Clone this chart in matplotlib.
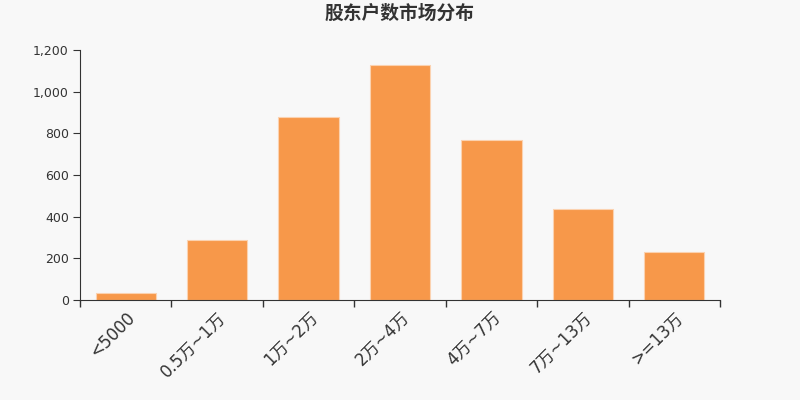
import matplotlib
matplotlib.use("Agg")
import matplotlib.pyplot as plt
import numpy as np
from matplotlib.ticker import FuncFormatter, FixedLocator, NullFormatter

plt.rcParams['font.family'] = ['DejaVu Sans', 'Noto Sans CJK SC']

categories = ['<5000', '0.5万~1万', '1万~2万', '2万~4万', '4万~7万', '7万~13万', '>=13万']
holders = [32, 290, 877, 1128, 766, 438, 229]

bg = '#f8f8f8'
fig = plt.figure(figsize=(8, 4), dpi=100, facecolor=bg)
ax = fig.add_axes([0.1, 0.25, 0.8, 0.625], facecolor=bg)

x = np.arange(len(categories))
ax.bar(x, holders, width=0.66, color='#f7984a', edgecolor='#fbd2b0', linewidth=0.8)

ax.set_xlim(-0.5, len(categories) - 0.5)
ax.set_ylim(0, 1200)
ax.set_yticks(range(0, 1201, 200))
ax.yaxis.set_major_formatter(FuncFormatter(lambda v, p: '{:,.0f}'.format(v)))

# labels at bar centres, tick marks at category boundaries
ax.set_xticks(x)
ax.set_xticklabels(categories, rotation=45, ha='right', rotation_mode='anchor',
                   fontsize=12, color='#333333')
ax.tick_params(axis='x', which='major', length=0, pad=6)
ax.xaxis.set_minor_locator(FixedLocator(np.arange(-0.5, len(categories), 1)))
ax.xaxis.set_minor_formatter(NullFormatter())
ax.tick_params(axis='x', which='minor', length=5, color='#333333', width=1)
ax.tick_params(axis='y', length=5, color='#333333', labelsize=9, labelcolor='#333333', pad=3)

for s in ['top', 'right']:
    ax.spines[s].set_visible(False)
for s in ['left', 'bottom']:
    ax.spines[s].set_color('#333333')

fig.text(0.5, 0.967, '股东户数市场分布', ha='center', va='center',
         fontsize=13.5, fontweight='bold', color='#333333',
         family=['Noto Sans CJK SC', 'DejaVu Sans'])

fig.savefig('out.png', dpi=100, facecolor=bg)
